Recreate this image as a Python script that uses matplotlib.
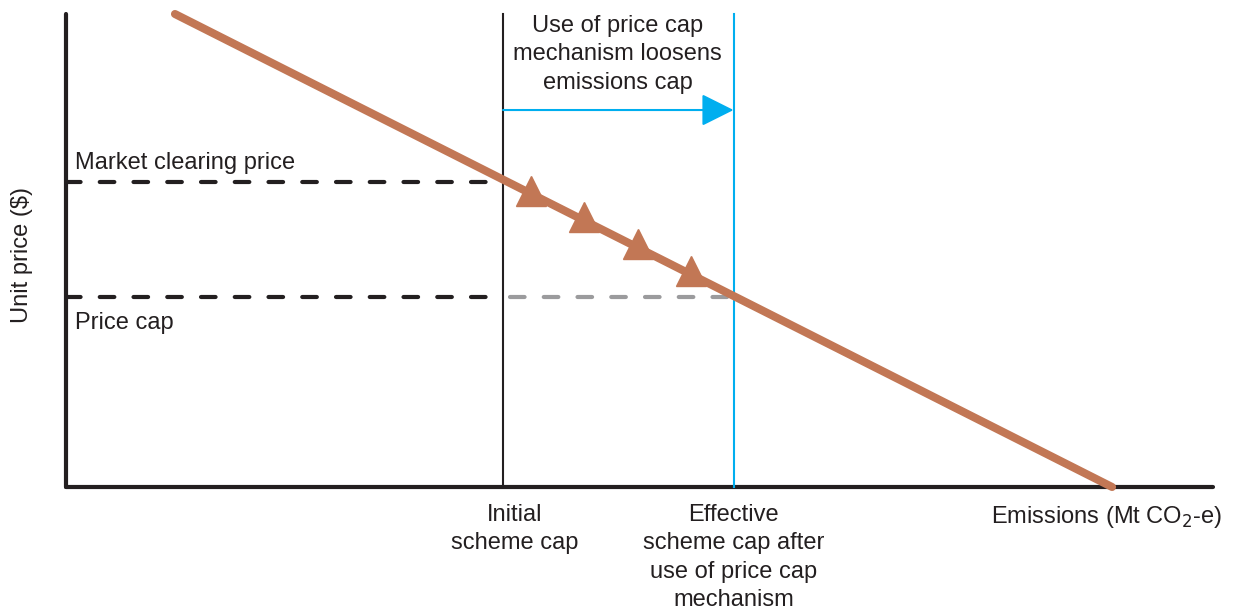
import numpy as np
import matplotlib.pyplot as plt

plt.rcParams['font.family'] = ['Liberation Sans', 'DejaVu Sans']

# --- values (x: emissions 0-100, y: unit price 0-100, arbitrary units) ---
demand_x = [9.5, 91.2]
demand_y = [100, 0]
initial_cap = 38.1
effective_cap = 58.2
market_price = 64.5
price_cap = 40.2
arrow_y = 79.7
marker_x = [40.5, 45.2, 49.9, 54.5]
marker_y = [62.6, 57.1, 51.4, 45.7]

ORANGE = '#C27755'
BLUE = '#00AEEF'
GREY = '#9B9B9D'
DARK = '#231F20'
FS = 17
LS = 1.38

fig = plt.figure(figsize=(12.33, 6.12), dpi=100)
ax = fig.add_axes([66 / 1233, 125 / 612, 1147 / 1233, 473 / 612])
ax.set_xlim(0, 100)
ax.set_ylim(0, 100)
ax.axis('off')

# axes lines
ax.plot([0, 0], [0, 100], color=DARK, lw=3, solid_capstyle='round', clip_on=False)
ax.plot([0, 100], [0, 0], color=DARK, lw=3, solid_capstyle='round', clip_on=False)

# dashed price lines
dash = dict(lw=3, dashes=(3.5, 4.6), dash_capstyle='round', clip_on=False)
ax.plot([0, initial_cap], [market_price] * 2, color=DARK, **dash)
ax.plot([0, initial_cap], [price_cap] * 2, color=DARK, **dash)
ax.plot([initial_cap + 0.6, effective_cap], [price_cap] * 2, color=GREY, **dash)

# caps
ax.plot([initial_cap] * 2, [0, 100], color=DARK, lw=1.5, clip_on=False)
ax.plot([effective_cap] * 2, [0, 100], color=BLUE, lw=1.5, clip_on=False)

# arrow
ax.annotate('', xy=(effective_cap, arrow_y), xytext=(initial_cap, arrow_y),
            arrowprops=dict(arrowstyle='-|>,head_length=2.0,head_width=1.0',
                            color=BLUE, lw=1.5, shrinkA=0, shrinkB=0))

# demand line
ax.plot(demand_x, demand_y, color=ORANGE, lw=5.8, solid_capstyle='round', clip_on=False, zorder=4)
ax.plot(marker_x, marker_y, ls='none', marker='^', ms=21, color=ORANGE, mec=ORANGE, zorder=5)

# labels
ax.text(0.8, 68.5, 'Market clearing price', fontsize=FS, va='center', ha='left', color=DARK)
ax.text(0.8, 34.7, 'Price cap', fontsize=FS, va='center', ha='left', color=DARK)
ax.text(48.1, 99.8, 'Use of price cap\nmechanism loosens\nemissions cap', fontsize=FS,
        ha='center', va='top', color=DARK, linespacing=LS)
ax.text(39.1, -3.6, 'Initial\nscheme cap', fontsize=FS, ha='center', va='top',
        color=DARK, linespacing=LS)
ax.text(58.2, -3.6, 'Effective\nscheme cap after\nuse of price cap\nmechanism', fontsize=FS,
        ha='center', va='top', color=DARK, linespacing=LS)
ax.text(90.7, -3.6, 'Emissions (Mt CO$_2$-e)', fontsize=FS, ha='center', va='top', color=DARK)
fig.text(22 / 1233, 1 - 255 / 612, 'Unit price ($)', fontsize=FS, rotation=90,
         ha='center', va='center', color=DARK)

fig.savefig('out.png', dpi=100)
